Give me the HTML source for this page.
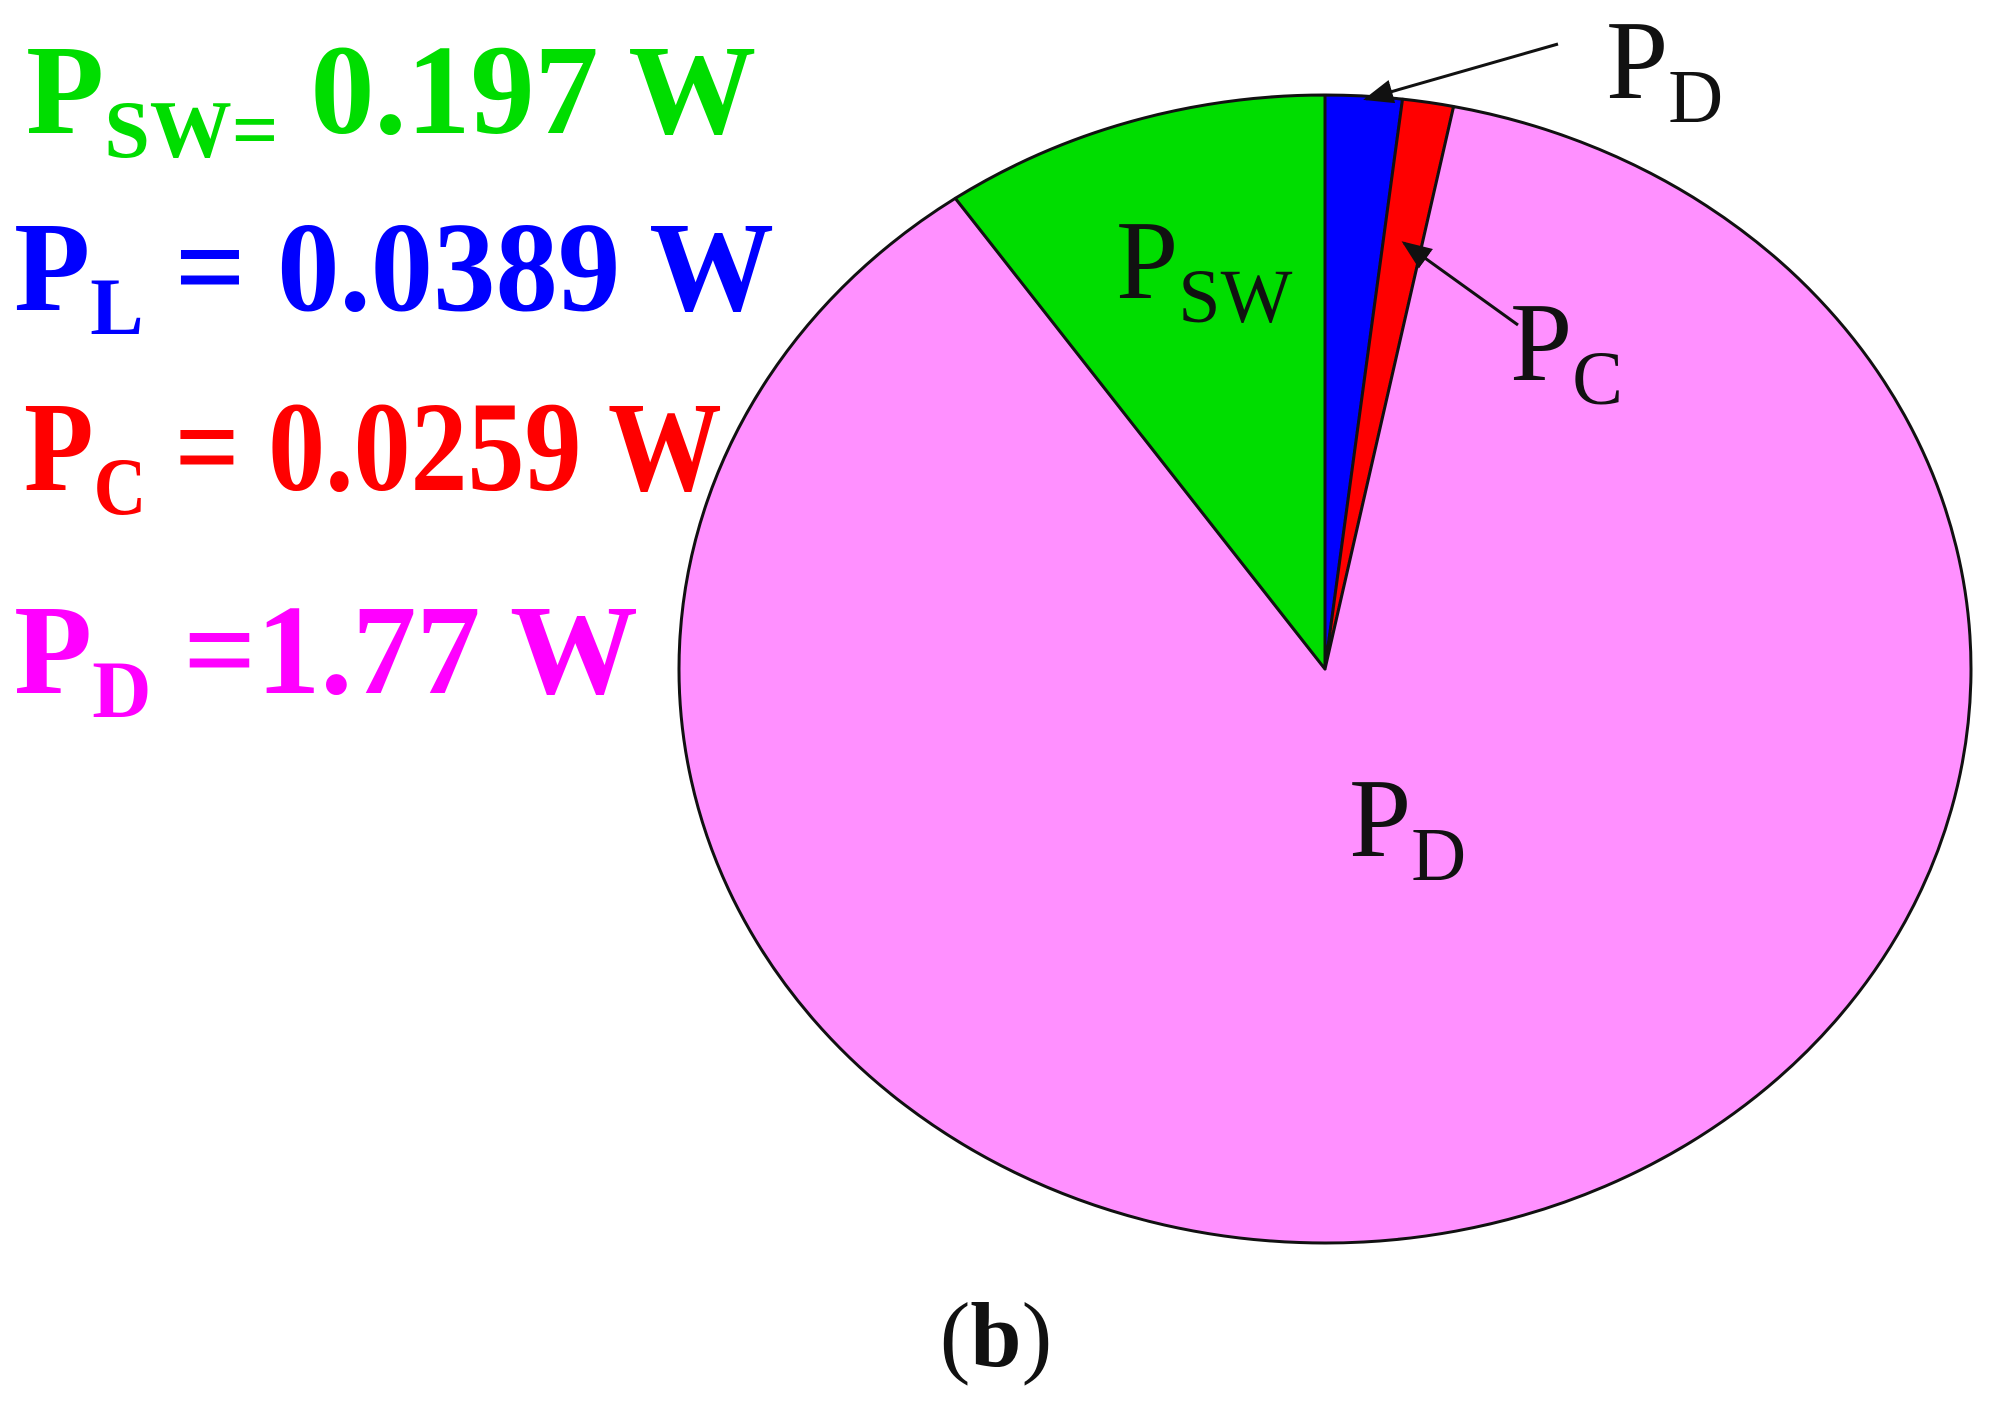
<!DOCTYPE html>
<html><head><meta charset="utf-8"><style>
html,body{margin:0;padding:0;background:#fff;}
svg{display:block;}
.lg{font-family:"Liberation Serif",serif;font-weight:bold;font-size:128px;}
.lb{font-family:"Liberation Serif",serif;font-size:112px;fill:#111;}
</style></head><body>
<svg id="chart" width="1989" height="1402" viewBox="0 0 1989 1402">
<g id="slices"></g>
<g>
<text class="lg" x="26" y="133" fill="#00dd00">P<tspan font-size="82" dy="24">SW=</tspan><tspan dy="-24"> 0.197 W</tspan></text>
<text class="lg" transform="translate(14,0) scale(0.975,1)" x="0" y="310" fill="#0000ff">P<tspan font-size="82" dy="24">L</tspan><tspan dy="-24"> = 0.0389 W</tspan></text>
<text class="lg" transform="translate(24,0) scale(0.89,1)" x="0" y="490" fill="#ff0000">P<tspan font-size="82" dy="24">C</tspan><tspan dy="-24"> = 0.0259 W</tspan></text>
<text class="lg" x="14" y="693" fill="#ff00ff">P<tspan font-size="82" dy="24">D</tspan><tspan dy="-24"> =1.77 W</tspan></text>
</g>
<text class="lb" x="1116" y="298">P<tspan font-size="76" dy="24">SW</tspan></text>
<text class="lb" x="1606" y="98">P<tspan font-size="76" dy="24">D</tspan></text>
<text class="lb" x="1510" y="380">P<tspan font-size="76" dy="24">C</tspan></text>
<text class="lb" x="1349" y="856">P<tspan font-size="76" dy="24">D</tspan></text>
<defs><marker id="ah" markerWidth="10" markerHeight="8" refX="9" refY="4" orient="auto"><path d="M0,0 L10,4 L0,8 Z" fill="#111"/></marker></defs>
<line x1="1558" y1="44" x2="1366" y2="99" stroke="#111" stroke-width="3" marker-end="url(#ah)"/>
<line x1="1518" y1="325" x2="1404" y2="243" stroke="#111" stroke-width="3" marker-end="url(#ah)"/>
<text x="996" y="1366" text-anchor="middle" font-family="Liberation Serif, serif" font-size="92" fill="#111">(<tspan font-weight="bold">b</tspan>)</text>
</svg>
<script>
const categories = ["PL", "PC", "PD", "PSW"];
const values = [0.0389, 0.0259, 1.77, 0.197];
const colors = ["#0000ff", "#ff0000", "#ff90ff", "#00dd00"];
const cx = 1325, cy = 669, rx = 646, ry = 574;
const g = document.getElementById('slices');
const total = values.reduce((a, b) => a + b, 0);
function pt(a) { return [cx + rx * Math.sin(a), cy - ry * Math.cos(a)]; }
let a0 = 0;
values.forEach((v, i) => {
  const a1 = a0 + v / total * 2 * Math.PI;
  const p0 = pt(a0), p1 = pt(a1);
  const large = (a1 - a0) > Math.PI ? 1 : 0;
  const p = document.createElementNS('http://www.w3.org/2000/svg', 'path');
  p.setAttribute('d', `M${cx},${cy} L${p0[0]},${p0[1]} A${rx},${ry} 0 ${large} 1 ${p1[0]},${p1[1]} Z`);
  p.setAttribute('fill', colors[i]);
  p.setAttribute('stroke', '#111');
  p.setAttribute('stroke-width', '3');
  p.setAttribute('stroke-linejoin', 'round');
  
  
  g.appendChild(p);
  a0 = a1;
});
</script>
</body></html>
